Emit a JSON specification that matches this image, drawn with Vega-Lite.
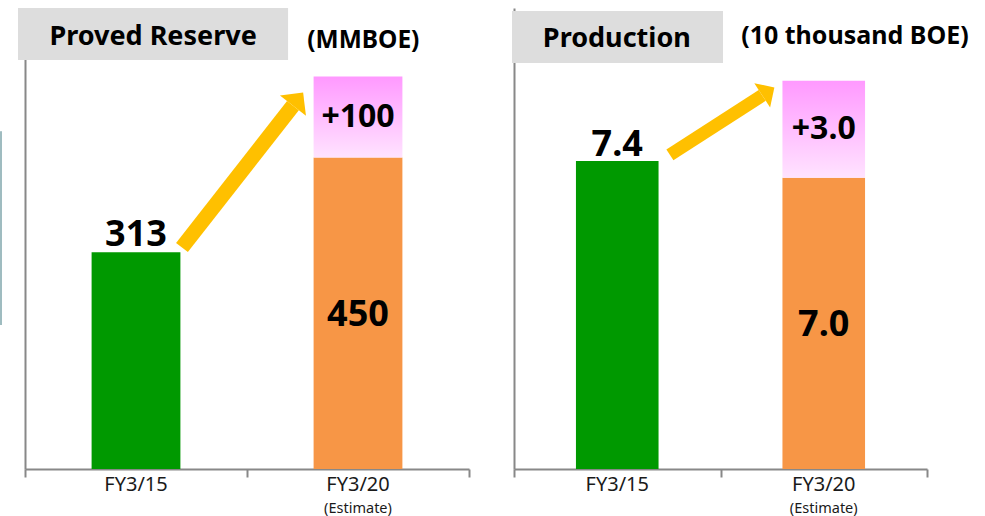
{
  "$schema": "https://vega.github.io/schema/vega-lite/v6.json",
  "padding": {"left": 0, "top": 8, "right": 5, "bottom": 0},
  "spacing": 41,
  "config": {"view": {"stroke": null}, "font": "Noto Sans", "axis": {"grid": false}},
  "datasets": {
    "reserve": [
      {"cat": "FY3/15", "seg": "actual", "value": 313, "label": "313", "order": 1},
      {"cat": "FY3/20", "seg": "base", "value": 450, "label": "450", "order": 1},
      {"cat": "FY3/20", "seg": "plus", "value": 117, "label": "+100", "order": 2}
    ],
    "production": [
      {"cat": "FY3/15", "seg": "actual", "value": 7.4, "label": "7.4", "order": 1},
      {"cat": "FY3/20", "seg": "base", "value": 7.0, "label": "7.0", "order": 1},
      {"cat": "FY3/20", "seg": "plus", "value": 2.33, "label": "+3.0", "order": 2}
    ]
  },
  "hconcat": [
    {
      "width": 444,
      "height": 461,
      "resolve": {"scale": {"x": "independent"}, "axis": {"x": "independent"}},
      "layer": [
        {
          "data": {"values": [{}]},
          "layer": [
            {
              "mark": {"type": "rule", "color": "#9FBCC0", "strokeWidth": 2},
              "encoding": {
                "x": {"datum": -0.108, "type": "quantitative", "scale": {"domain": [0, 2], "nice": false, "zero": false},
                  "axis": {"orient": "bottom", "values": [0, 1, 2], "labels": false, "ticks": true, "tickSize": 8, "tickWidth": 2, "tickColor": "#888888", "domain": true, "domainColor": "#888888", "domainWidth": 2, "title": null, "grid": false}},
                "y": {"datum": 208, "type": "quantitative", "scale": {"domain": [0, 666], "nice": false, "zero": true},
                  "axis": {"labels": false, "ticks": false, "title": null, "grid": false, "domainColor": "#888888", "domainWidth": 2}},
                "y2": {"datum": 488}
              }
            }
          ]
        },
        {
          "data": {"name": "reserve"},
          "transform": [{"stack": "value", "groupby": ["cat"], "sort": [{"field": "order", "order": "ascending"}], "as": ["v0", "v1"]}],
          "encoding": {
            "x": {"field": "cat", "type": "nominal", "sort": null, "scale": {"paddingInner": 0.6, "paddingOuter": 0.3},
              "axis": {"orient": "bottom", "domain": false, "ticks": false, "tickSize": 0, "labelFontSize": 20, "labelColor": "#1a1a1a", "labelPadding": 5, "labelAngle": 0, "title": null}}
          },
          "layer": [
            {
              "transform": [{"filter": "datum.seg !== 'plus'"}],
              "mark": {"type": "bar"},
              "encoding": {
                "y": {"field": "v1", "type": "quantitative"},
                "y2": {"field": "v0"},
                "color": {"condition": {"test": "datum.seg === 'actual'", "value": "#009900"}, "value": "#F79646"}
              }
            },
            {
              "transform": [{"filter": "datum.seg === 'plus'"}],
              "mark": {"type": "bar", "color": {"gradient": "linear", "x1": 0, "y1": 0, "x2": 0, "y2": 1, "stops": [{"offset": 0, "color": "#FF99FF"}, {"offset": 1, "color": "#FFE3FF"}]}},
              "encoding": {
                "y": {"field": "v1", "type": "quantitative"},
                "y2": {"field": "v0"}
              }
            },
            {
              "transform": [{"filter": "datum.seg === 'actual'"}],
              "mark": {"type": "text", "fontSize": 36, "fontWeight": "bold", "baseline": "alphabetic", "dy": -6, "color": "#000000"},
              "encoding": {
                "y": {"field": "v1", "type": "quantitative"},
                "text": {"field": "label"}
              }
            },
            {
              "transform": [{"filter": "datum.seg === 'base'"}, {"fold": ["v0", "v1"], "as": ["edge", "pos"]}],
              "mark": {"type": "text", "fontSize": 36, "fontWeight": "bold", "baseline": "middle", "dy": 2, "color": "#000000"},
              "encoding": {
                "y": {"aggregate": "mean", "field": "pos", "type": "quantitative"},
                "text": {"field": "label"}
              }
            },
            {
              "transform": [{"filter": "datum.seg === 'plus'"}, {"fold": ["v0", "v1"], "as": ["edge", "pos"]}],
              "mark": {"type": "text", "fontSize": 32, "fontWeight": "bold", "baseline": "middle", "color": "#000000"},
              "encoding": {
                "y": {"aggregate": "mean", "field": "pos", "type": "quantitative"},
                "text": {"field": "label"}
              }
            }
          ]
        },
        {
          "data": {"values": [{}]},
          "layer": [
            {
              "mark": {"type": "rect", "color": "#DDDDDD"},
              "encoding": {
                "x": {"datum": -0.0315, "type": "quantitative", "scale": {"domain": [0, 2], "nice": false, "zero": false}, "axis": null},
                "x2": {"datum": 1.185},
                "y": {"datum": 591, "type": "quantitative"},
                "y2": {"datum": 666}
              }
            },
            {
              "mark": {"type": "text", "fontSize": 27, "fontWeight": "bold", "baseline": "alphabetic", "align": "center", "color": "#000000"},
              "encoding": {
                "x": {"datum": 0.577, "type": "quantitative"},
                "y": {"datum": 612.7, "type": "quantitative"},
                "text": {"value": "Proved Reserve"}
              }
            },
            {
              "mark": {"type": "text", "fontSize": 24.5, "fontWeight": "bold", "baseline": "alphabetic", "align": "center", "color": "#000000"},
              "encoding": {
                "x": {"datum": 1.524, "type": "quantitative"},
                "y": {"datum": 608, "type": "quantitative"},
                "text": {"value": "(MMBOE)"}
              }
            },
            {
              "mark": {"type": "text", "fontSize": 14.5, "baseline": "middle", "align": "center", "dy": 40, "color": "#1a1a1a"},
              "encoding": {
                "x": {"datum": 1.5, "type": "quantitative"},
                "y": {"datum": 0, "type": "quantitative"},
                "text": {"value": "(Estimate)"}
              }
            },
            {
              "mark": {"type": "rule", "color": "#FFC000", "strokeWidth": 15, "strokeCap": "butt"},
              "encoding": {
                "x": {"datum": 0.707, "type": "quantitative"},
                "y": {"datum": 320, "type": "quantitative"},
                "x2": {"datum": 1.207},
                "y2": {"datum": 525}
              }
            },
            {
              "mark": {"type": "point", "shape": "M0,-1L1,0L-1,0Z", "size": 1089, "angle": 38, "filled": true, "color": "#FFC000", "opacity": 1, "strokeWidth": 0},
              "encoding": {
                "x": {"datum": 1.207, "type": "quantitative"},
                "y": {"datum": 525, "type": "quantitative"}
              }
            }
          ]
        }
      ]
    },
    {
      "width": 413,
      "height": 461,
      "resolve": {"scale": {"x": "independent"}, "axis": {"x": "independent"}},
      "layer": [
        {
          "data": {"values": [{}]},
          "layer": [
            {
              "mark": {"type": "rule", "opacity": 0},
              "encoding": {
                "x": {"datum": 0, "type": "quantitative", "scale": {"domain": [0, 2], "nice": false, "zero": false},
                  "axis": {"orient": "bottom", "values": [0, 1, 2], "labels": false, "ticks": true, "tickSize": 8, "tickWidth": 2, "tickColor": "#888888", "domain": true, "domainColor": "#888888", "domainWidth": 2, "title": null, "grid": false}},
                "y": {"datum": 0, "type": "quantitative", "scale": {"domain": [0, 11.08], "nice": false, "zero": true},
                  "axis": {"labels": false, "ticks": false, "title": null, "grid": false, "domainColor": "#888888", "domainWidth": 2}},
                "y2": {"datum": 0.1}
              }
            }
          ]
        },
        {
          "data": {"name": "production"},
          "transform": [{"stack": "value", "groupby": ["cat"], "sort": [{"field": "order", "order": "ascending"}], "as": ["v0", "v1"]}],
          "encoding": {
            "x": {"field": "cat", "type": "nominal", "sort": null, "scale": {"paddingInner": 0.6, "paddingOuter": 0.3},
              "axis": {"orient": "bottom", "domain": false, "ticks": false, "tickSize": 0, "labelFontSize": 20, "labelColor": "#1a1a1a", "labelPadding": 5, "labelAngle": 0, "title": null}}
          },
          "layer": [
            {
              "transform": [{"filter": "datum.seg !== 'plus'"}],
              "mark": {"type": "bar"},
              "encoding": {
                "y": {"field": "v1", "type": "quantitative"},
                "y2": {"field": "v0"},
                "color": {"condition": {"test": "datum.seg === 'actual'", "value": "#009900"}, "value": "#F79646"}
              }
            },
            {
              "transform": [{"filter": "datum.seg === 'plus'"}],
              "mark": {"type": "bar", "color": {"gradient": "linear", "x1": 0, "y1": 0, "x2": 0, "y2": 1, "stops": [{"offset": 0, "color": "#FF99FF"}, {"offset": 1, "color": "#FFE3FF"}]}},
              "encoding": {
                "y": {"field": "v1", "type": "quantitative"},
                "y2": {"field": "v0"}
              }
            },
            {
              "transform": [{"filter": "datum.seg === 'actual'"}],
              "mark": {"type": "text", "fontSize": 36, "fontWeight": "bold", "baseline": "alphabetic", "dy": -5, "color": "#000000"},
              "encoding": {
                "y": {"field": "v1", "type": "quantitative"},
                "text": {"field": "label"}
              }
            },
            {
              "transform": [{"filter": "datum.seg === 'base'"}, {"fold": ["v0", "v1"], "as": ["edge", "pos"]}],
              "mark": {"type": "text", "fontSize": 36, "fontWeight": "bold", "baseline": "middle", "dy": 2, "color": "#000000"},
              "encoding": {
                "y": {"aggregate": "mean", "field": "pos", "type": "quantitative"},
                "text": {"field": "label"}
              }
            },
            {
              "transform": [{"filter": "datum.seg === 'plus'"}, {"fold": ["v0", "v1"], "as": ["edge", "pos"]}],
              "mark": {"type": "text", "fontSize": 32, "fontWeight": "bold", "baseline": "middle", "color": "#000000"},
              "encoding": {
                "y": {"aggregate": "mean", "field": "pos", "type": "quantitative"},
                "text": {"field": "label"}
              }
            }
          ]
        },
        {
          "data": {"values": [{}]},
          "layer": [
            {
              "mark": {"type": "rect", "color": "#DDDDDD"},
              "encoding": {
                "x": {"datum": -0.0097, "type": "quantitative", "scale": {"domain": [0, 2], "nice": false, "zero": false}, "axis": null},
                "x2": {"datum": 1.012},
                "y": {"datum": 9.76, "type": "quantitative"},
                "y2": {"datum": 11.01}
              }
            },
            {
              "mark": {"type": "text", "fontSize": 27, "fontWeight": "bold", "baseline": "alphabetic", "align": "center", "color": "#000000"},
              "encoding": {
                "x": {"datum": 0.498, "type": "quantitative"},
                "y": {"datum": 10.15, "type": "quantitative"},
                "text": {"value": "Production"}
              }
            },
            {
              "mark": {"type": "text", "fontSize": 25, "fontWeight": "bold", "baseline": "alphabetic", "align": "center", "color": "#000000"},
              "encoding": {
                "x": {"datum": 1.651, "type": "quantitative"},
                "y": {"datum": 10.21, "type": "quantitative"},
                "text": {"value": "(10 thousand BOE)"}
              }
            },
            {
              "mark": {"type": "text", "fontSize": 14.5, "baseline": "middle", "align": "center", "dy": 40, "color": "#1a1a1a"},
              "encoding": {
                "x": {"datum": 1.5, "type": "quantitative"},
                "y": {"datum": 0, "type": "quantitative"},
                "text": {"value": "(Estimate)"}
              }
            },
            {
              "mark": {"type": "rule", "color": "#FFC000", "strokeWidth": 13, "strokeCap": "butt"},
              "encoding": {
                "x": {"datum": 0.755, "type": "quantitative"},
                "y": {"datum": 7.55, "type": "quantitative"},
                "x2": {"datum": 1.202},
                "y2": {"datum": 8.98}
              }
            },
            {
              "mark": {"type": "point", "shape": "M0,-1L1,0L-1,0Z", "size": 841, "angle": 57, "filled": true, "color": "#FFC000", "opacity": 1, "strokeWidth": 0},
              "encoding": {
                "x": {"datum": 1.202, "type": "quantitative"},
                "y": {"datum": 8.98, "type": "quantitative"}
              }
            }
          ]
        }
      ]
    }
  ]
}
